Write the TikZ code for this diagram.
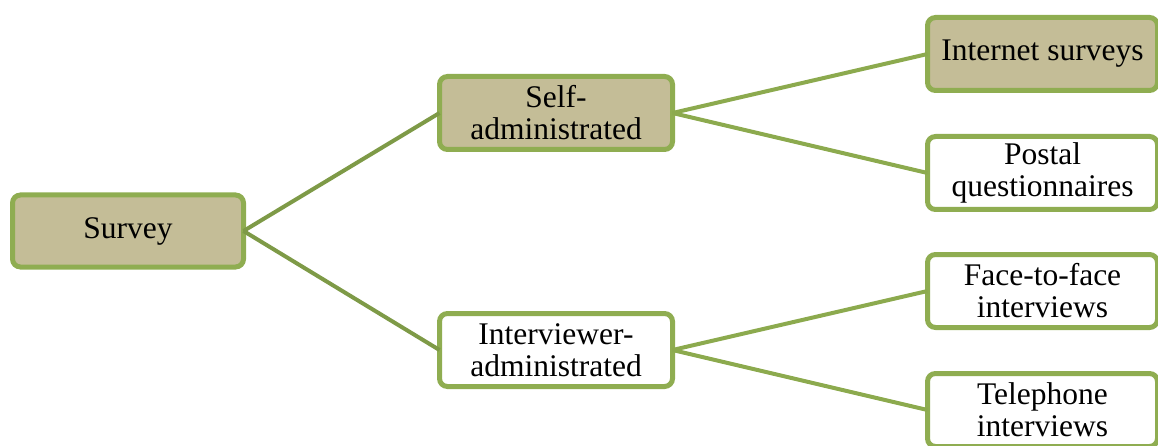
\documentclass[tikz,border=0pt]{standalone}
\usepackage{fontspec}
\setmainfont{Liberation Serif}
\definecolor{boxborder}{HTML}{8FAD51}
\definecolor{boxfill}{HTML}{C4BD97}
\definecolor{linkA}{HTML}{7E9A47}
\definecolor{linkB}{HTML}{8CAA4E}
\tikzset{
  box/.style={draw=boxborder, line width=5pt, rounded corners=8pt, align=center,
    font=\fontsize{31.5}{32}\selectfont, inner sep=2pt, outer sep=0pt, text=black},
  filledbox/.style={box, fill=boxfill},
  plainbox/.style={box, fill=white},
  leftw/.style={minimum width=231pt, minimum height=72pt},
  midw/.style={minimum width=233pt, minimum height=73pt},
  rightw/.style={minimum width=230pt, minimum height=73pt},
  linka/.style={draw=linkA, line width=4pt},
  linkb/.style={draw=linkB, line width=4pt},
}
\begin{document}
\begin{tikzpicture}[x=1pt,y=-1pt]
\useasboundingbox (0,0) rectangle (1158,446);
\node[filledbox, leftw] (survey) at (128,231) {Survey};
\node[filledbox, midw] (self) at (556,113) {Self-\\administrated};
\node[plainbox, midw] (inter) at (556,350) {Interviewer-\\administrated};
\node[filledbox, rightw] (internet) at (1042.5,54) {Internet surveys};
\node[plainbox, rightw] (postal) at (1042.5,173) {Postal\\questionnaires};
\node[plainbox, rightw] (face) at (1042.5,291) {Face-to-face\\interviews};
\node[plainbox, rightw] (tel) at (1042.5,410) {Telephone\\interviews};
\draw[linka] (survey.east) -- (self.west);
\draw[linka] (survey.east) -- (inter.west);
\draw[linkb] (self.east) -- (internet.west);
\draw[linkb] (self.east) -- (postal.west);
\draw[linkb] (inter.east) -- (face.west);
\draw[linkb] (inter.east) -- (tel.west);
\end{tikzpicture}
\end{document}
